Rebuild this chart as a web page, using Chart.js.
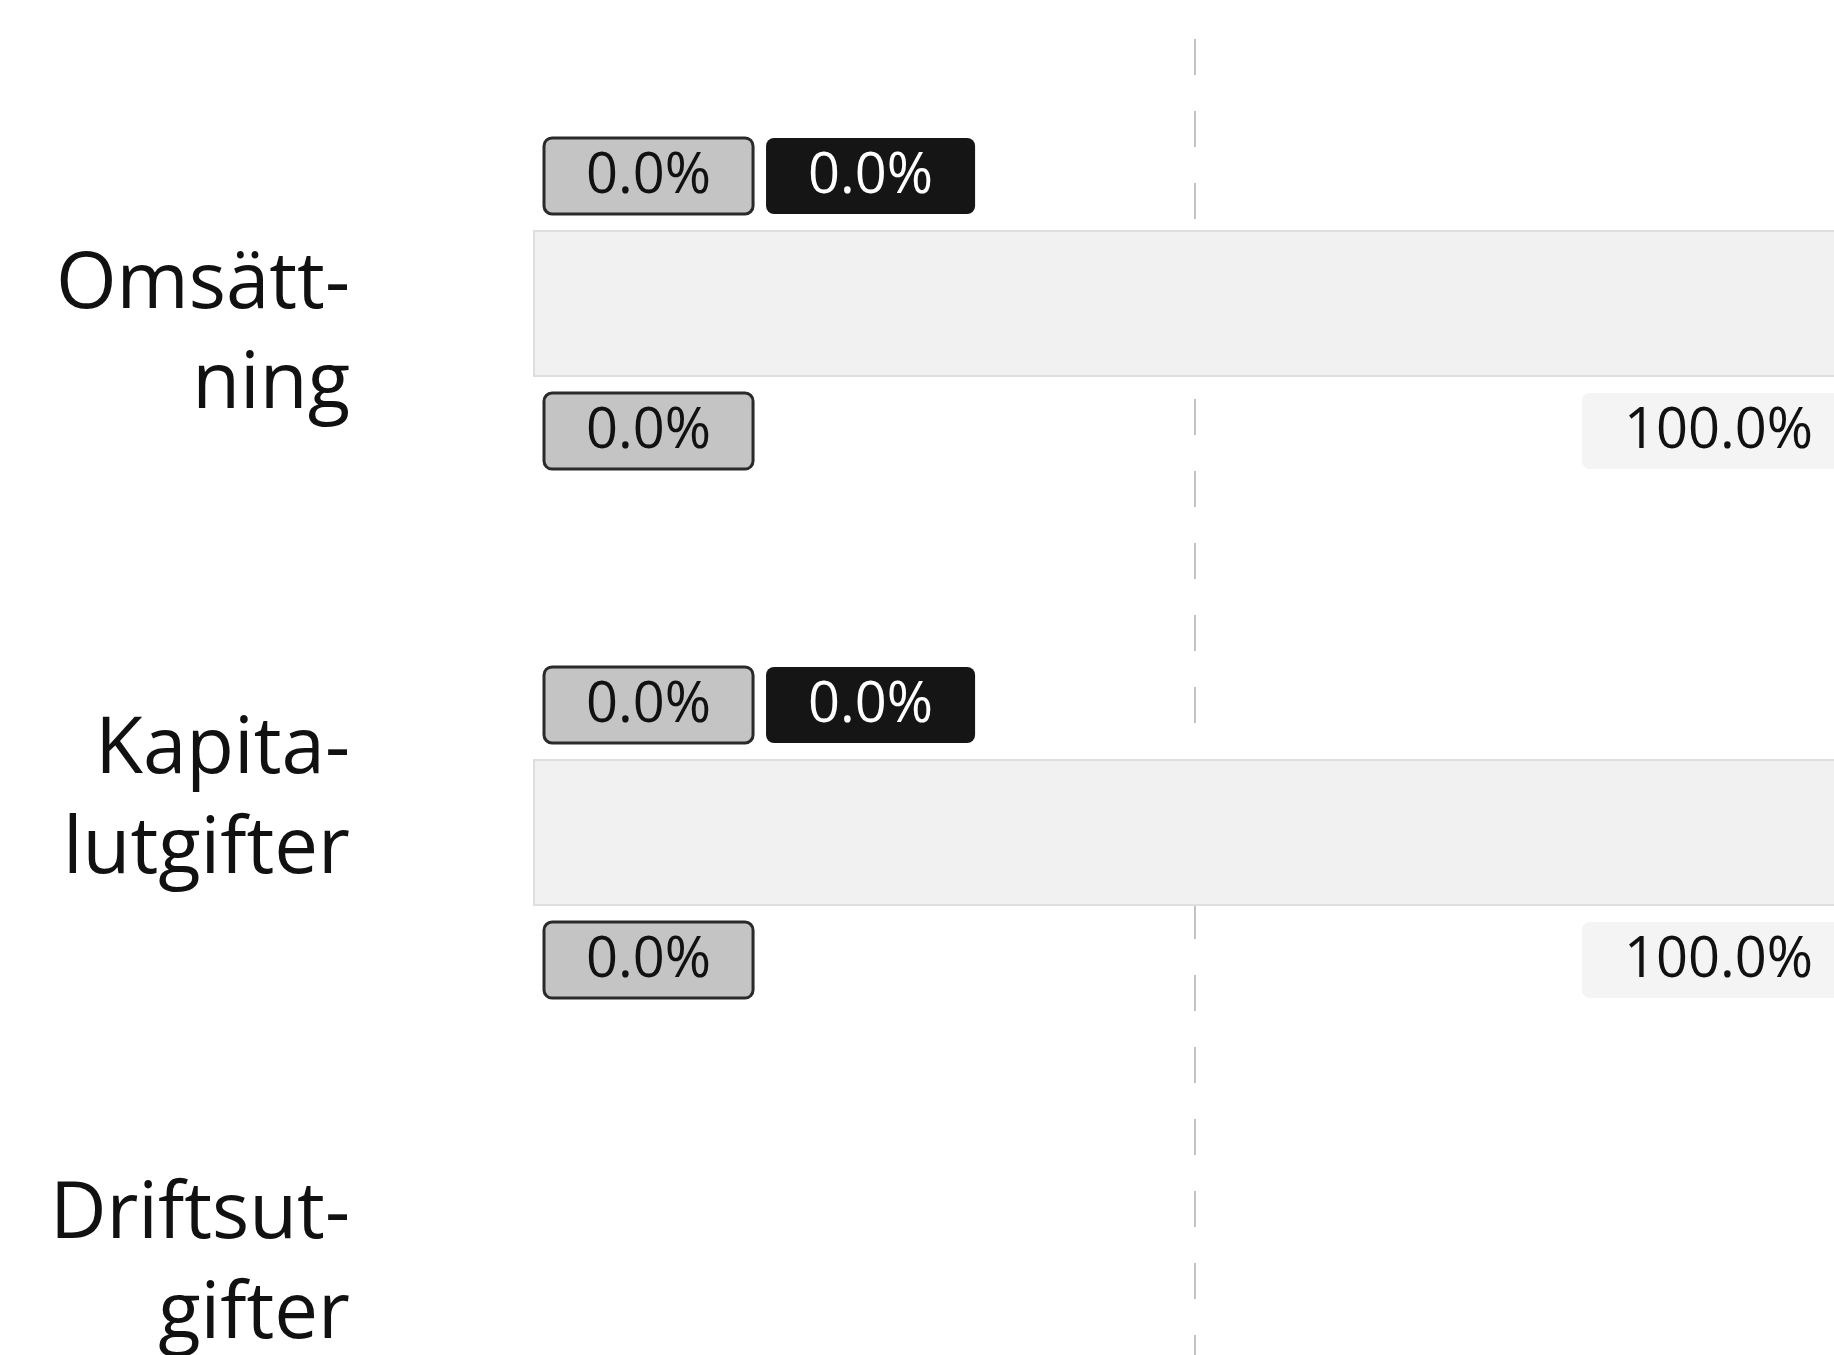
<!DOCTYPE html>
<html>
<head>
<meta charset="utf-8">
<script src="https://cdn.jsdelivr.net/npm/chart.js@4.4.1/dist/chart.umd.min.js"></script>
<style>
html, body { margin: 0; padding: 0; background: #ffffff; overflow: hidden; width: 1834px; height: 1355px; }
#wrap { position: absolute; left: 0; top: 0; width: 1920px; height: 1670px; }
</style>
</head>
<body>
<div id="wrap"><canvas id="c" width="1920" height="1670"></canvas></div>
<script>
// ---- data ----
const categories = [["Omsätt-", "ning"], ["Kapita-", "lutgifter"], ["Driftsut-", "gifter"]];
const seriesNames = ["Minskning", "Kraftig minskning", "Ökning", "Oförändrad"];
const seriesA = [0, 0, null];
const seriesB = [0, 0, null];
const seriesD = [0, 0, null];
const seriesC = [100, 100, null];
const categoryIndex = [0, 1, 2];
const xTickValues = [0, 50, 100];

// ---- style constants ----
const FONT = "'Open Sans', 'Noto Sans', sans-serif";
const LABEL_SPREAD = 0.879; // axis-label spacing relative to bar spacing

// ---- box labels (positions derived from the bar elements) ----
const labelPlugin = {
  id: 'boxLabels',
  afterDatasetsDraw(chart) {
    const ctx = chart.ctx;
    ctx.save();
    ctx.font = "56px " + FONT;
    ctx.textBaseline = 'middle';
    const padX = 42, boxH = 76, gap = 16, r = 8;
    const placed = {};
    chart.data.datasets.forEach((ds, di) => {
      const meta = chart.getDatasetMeta(di);
      const st = ds.lbl;
      meta.data.forEach((el, j) => {
        const v = ds.data[j];
        if (v === null || v === undefined) return;
        const txt = v.toFixed(1) + '%';
        const tw = ctx.measureText(txt).width;
        const bw = tw + padX * 2;
        const start = Math.min(el.base, el.x), end = Math.max(el.base, el.x);
        const cy = st.side === 'top' ? el.y - el.height / 2 - gap - boxH / 2 : el.y + el.height / 2 + gap + boxH / 2;
        let left;
        const key = j + st.side;
        if (st.anchor === 'end') {
          left = end - 45 - tw - padX;
        } else {
          left = (placed[key] !== undefined ? placed[key] + 13 : start + 12);
          placed[key] = left + bw;
        }
        ctx.beginPath();
        ctx.roundRect(left, cy - boxH / 2, bw, boxH, r);
        ctx.fillStyle = st.bg;
        ctx.fill();
        if (st.border) {
          ctx.lineWidth = 3;
          ctx.strokeStyle = st.border;
          ctx.stroke();
        }
        ctx.fillStyle = st.color;
        ctx.textAlign = 'left';
        ctx.fillText(txt, left + padX, cy + 1);
      });
    });
    ctx.restore();
  }
};

// label axis range: centred on the bar axis, spread by LABEL_SPREAD
const n = categories.length;
const mid = 0.5;
const labelMin = mid - (mid + 0.5) / LABEL_SPREAD;
const labelMax = mid + (n - 0.5 - mid) / LABEL_SPREAD;

const ctx = document.getElementById('c').getContext('2d');
new Chart(ctx, {
  type: 'bar',
  data: {
    labels: categories,
    datasets: [
      { label: seriesNames[0], data: seriesA, backgroundColor: '#c4c4c4', borderWidth: 0,
        lbl: { side: 'top', anchor: 'start', bg: '#c4c4c4', border: '#2a2a2a', color: '#111111' } },
      { label: seriesNames[1], data: seriesB, backgroundColor: '#151515', borderWidth: 0,
        lbl: { side: 'top', anchor: 'start', bg: '#151515', border: null, color: '#ffffff' } },
      { label: seriesNames[2], data: seriesD, backgroundColor: '#c4c4c4', borderWidth: 0,
        lbl: { side: 'bottom', anchor: 'start', bg: '#c4c4c4', border: '#2a2a2a', color: '#111111' } },
      { label: seriesNames[3], data: seriesC, backgroundColor: '#f1f1f1', borderColor: '#dedede', borderWidth: 2, borderSkipped: false,
        lbl: { side: 'bottom', anchor: 'end', bg: '#f4f4f4', border: null, color: '#111111' } }
    ]
  },
  options: {
    responsive: false,
    animation: false,
    indexAxis: 'y',
    categoryPercentage: 0.278,
    barPercentage: 1.0,
    layout: { padding: { left: 52, right: 62, top: 39, bottom: 44 } },
    plugins: { legend: { display: false }, tooltip: { enabled: false } },
    scales: {
      x: {
        stacked: true,
        min: 0, max: 100,
        afterBuildTicks: (axis) => { axis.ticks = xTickValues.map(v => ({ value: v })); },
        afterFit: (axis) => { axis.height = 0; axis.paddingLeft = 0; axis.paddingRight = 0; },
        ticks: { display: false },
        grid: {
          drawTicks: false,
          lineWidth: 2,
          color: (c) => (c.tick && c.tick.value === 50) ? '#c2c2c2' : 'rgba(0,0,0,0)'
        },
        border: { display: false, dash: [36, 36] }
      },
      y: {
        stacked: true,
        display: false
      },
      yl: {
        type: 'linear',
        position: 'left',
        offset: false,
        reverse: true,
        min: labelMin,
        max: labelMax,
        afterBuildTicks: (axis) => { axis.ticks = categoryIndex.map(v => ({ value: v })); },
        afterFit: (axis) => { axis.width = 480; axis.paddingTop = 0; axis.paddingBottom = 0; },
        grid: { display: false, drawTicks: false, offset: false },
        border: { display: false },
        ticks: {
          padding: 182,
          color: '#111111',
          font: { family: FONT, size: 78, lineHeight: 1.28 },
          callback: (value) => categories[value]
        }
      }
    }
  },
  plugins: [labelPlugin]
});
</script>
</body>
</html>
